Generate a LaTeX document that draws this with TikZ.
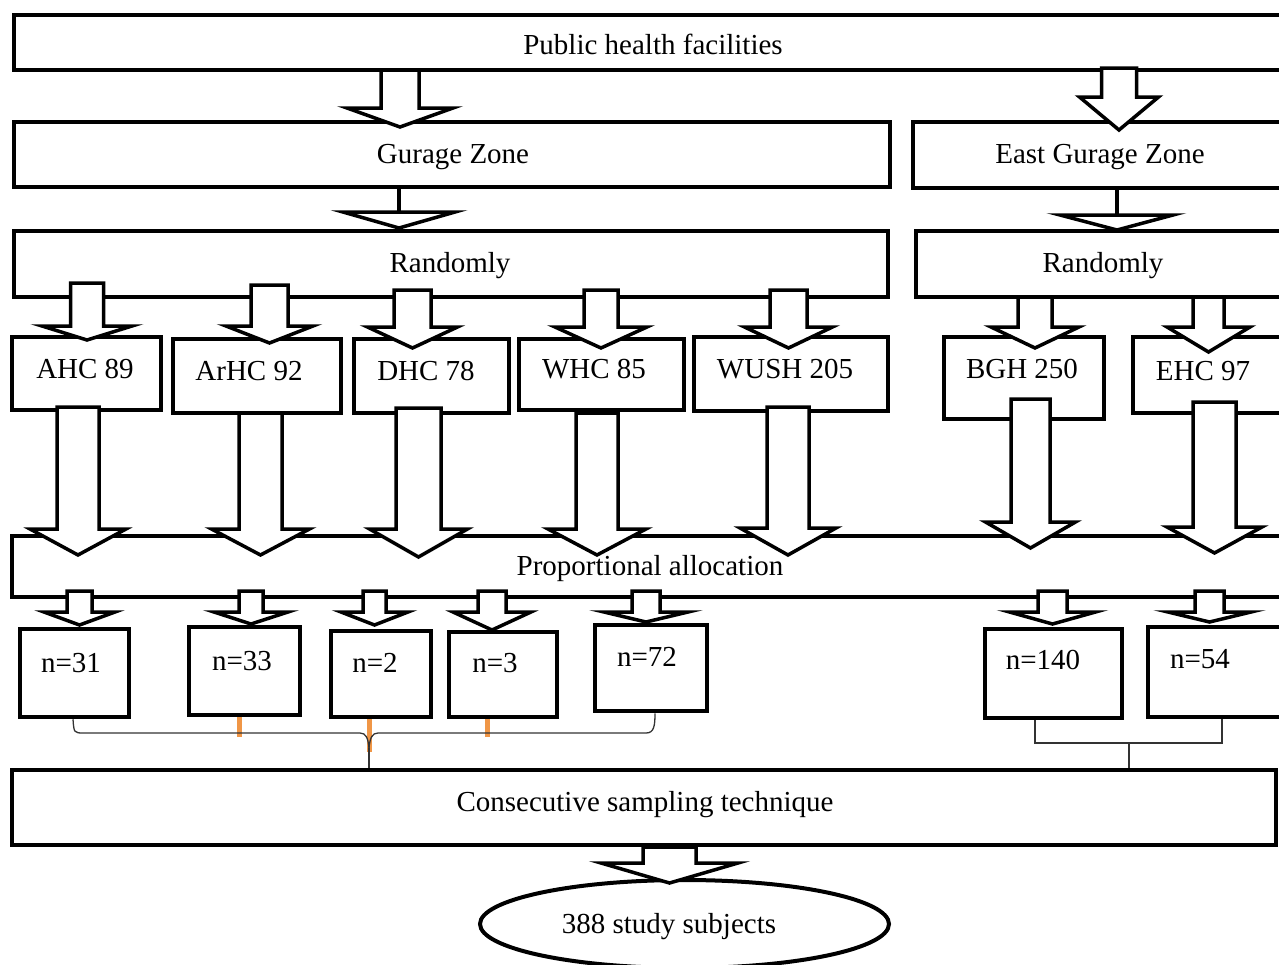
\documentclass[tikz,border=0pt]{standalone}
\usepackage{fontspec}
\setmainfont{Liberation Serif}
\usetikzlibrary{shapes.geometric}
\definecolor{orbar}{RGB}{240,150,70}
\newcommand{\blockarr}[6]{\draw[blockarrow] ({#1-#3},#2) -- ({#1+#3},#2) -- ({#1+#3},#5) -- ({#1+#4},#5) -- (#1,#6) -- ({#1-#4},#5) -- ({#1-#3},#5) -- cycle;}
\begin{document}
\begin{tikzpicture}[x=1pt,y=-1pt,
  box/.style={draw, line width=4pt, fill=white, inner sep=0pt, rectangle},
  nbox/.style={box, line width=4.5pt},
  lbl/.style={anchor=base, inner sep=0pt, font=\fontsize{29}{34}\selectfont},
  blockarrow/.style={draw, fill=white, line width=3.5pt, line join=miter},
  thinline/.style={draw=black!80, line width=1.3pt},
  orange mark/.style={draw=orbar, line width=5pt}]
\useasboundingbox (0,0) rectangle (1279,964);
% ---- boxes ----
\node[box, minimum width=1281pt, minimum height=55pt] (top) at (654.5,42.5) {};
\node[box, minimum width=876pt, minimum height=65pt] (gz) at (452,154.5) {};
\node[box, minimum width=382pt, minimum height=66pt] (egz) at (1104,155) {};
\node[box, minimum width=874pt, minimum height=66pt] (rl) at (451,264) {};
\node[box, minimum width=379pt, minimum height=66pt] (rr) at (1105.5,264) {};
\node[box, minimum width=149pt, minimum height=73pt] (ahc) at (86.5,373.5) {};
\node[box, minimum width=168pt, minimum height=74pt] (arhc) at (257,376) {};
\node[box, minimum width=155pt, minimum height=74pt] (dhc) at (431.5,376) {};
\node[box, minimum width=165pt, minimum height=71pt] (whc) at (601.5,374.5) {};
\node[box, minimum width=194pt, minimum height=74pt] (wush) at (791,374) {};
\node[box, minimum width=160pt, minimum height=82pt] (bgh) at (1024,378) {};
\node[box, minimum width=162pt, minimum height=76pt] (ehc) at (1214,375) {};
\node[box, minimum width=1283pt, minimum height=61pt] (prop) at (653.5,566.5) {};
\node[nbox, minimum width=109pt, minimum height=88pt] (n31) at (74.5,673) {};
\node[nbox, minimum width=111pt, minimum height=88pt] (n33) at (244.5,671) {};
\node[nbox, minimum width=100pt, minimum height=86pt] (n2) at (381,674) {};
\node[nbox, minimum width=108pt, minimum height=85pt] (n3) at (503,674.5) {};
\node[nbox, minimum width=112pt, minimum height=86pt] (n72) at (651,668) {};
\node[nbox, minimum width=137pt, minimum height=89pt] (n140) at (1053.5,673.5) {};
\node[nbox, minimum width=147pt, minimum height=90pt] (n54) at (1221.5,672) {};
\node[box, minimum width=1264pt, minimum height=75pt] (cons) at (644,807.5) {};
\node[draw, ellipse, line width=4pt, inner sep=0pt, minimum width=409pt, minimum height=88pt] (subj) at (684.5,924) {};
% ---- labels ----
\node[lbl] (ttop) at (653,54) {Public health facilities};
\node[lbl] (tgz) at (453,163) {Gurage Zone};
\node[lbl] (tegz) at (1100,163) {East Gurage Zone};
\node[lbl] (trl) at (450,272) {Randomly};
\node[lbl] (trr) at (1103,272) {Randomly};
\node[lbl] (tahc) at (85,378) {AHC 89};
\node[lbl] (tarhc) at (249,380) {ArHC 92};
\node[lbl] (tdhc) at (426,380) {DHC 78};
\node[lbl] (twhc) at (594,378) {WHC 85};
\node[lbl] (twush) at (785,378) {WUSH 205};
\node[lbl] (tbgh) at (1022,378) {BGH 250};
\node[lbl] (tehc) at (1203,380) {EHC 97};
\node[lbl] (tprop) at (650,575) {Proportional allocation};
\node[lbl] (tn31) at (71,672) {n=31};
\node[lbl] (tn33) at (242,670) {n=33};
\node[lbl] (tn2) at (375,672) {n=2};
\node[lbl] (tn3) at (495,672) {n=3};
\node[lbl] (tn72) at (647,666) {n=72};
\node[lbl] (tn140) at (1043,669) {n=140};
\node[lbl] (tn54) at (1200,668) {n=54};
\node[lbl] (tcons) at (645,811) {Consecutive sampling technique};
\node[lbl] (tsubj) at (669,933) {388 study subjects};
% ---- block arrows: top -> zones ----
\blockarr{400}{70}{19}{53}{108}{127}
\blockarr{1119}{68}{17.5}{39.5}{97}{130}
% ---- flat arrows: zones -> Randomly ----
\draw[line width=3.5pt] (399,188) -- (399,212);
\draw[blockarrow] (343,212) -- (455,212) -- (399,228) -- cycle;
\draw[line width=3.5pt] (1117,190) -- (1117,215);
\draw[blockarrow] (1060,215) -- (1173,215) -- (1117,230) -- cycle;
% ---- Randomly -> facilities ----
\blockarr{87}{283}{16.5}{45}{326}{340}
\blockarr{269.5}{285}{18.5}{43.5}{326}{343}
\blockarr{412.5}{290}{18.5}{45}{327}{348}
\blockarr{601}{290}{17}{46}{327}{348}
\blockarr{788.5}{290}{18.5}{44}{327}{348}
\blockarr{1035}{297}{17}{44}{327}{348}
\blockarr{1208.5}{297}{15.5}{41.5}{327}{352}
% ---- facilities -> Proportional allocation ----
\blockarr{78}{407}{21}{48}{529}{555}
\blockarr{260.5}{413}{21.5}{49}{529}{555}
\blockarr{418.5}{408}{22.5}{49}{529}{557}
\blockarr{597}{413}{21}{49}{529}{555}
\blockarr{788}{407}{21}{48}{528}{555}
\blockarr{1030.5}{399}{19.5}{45}{522}{548}
\blockarr{1214.5}{402}{21.5}{47.5}{527}{553}
% ---- Proportional allocation -> n boxes ----
\blockarr{79.5}{591}{12.5}{35.5}{612}{625}
\blockarr{251}{591}{12}{37}{612}{624}
\blockarr{374.5}{591}{11.5}{33.5}{612}{625}
\blockarr{492}{591}{14}{39}{612}{630}
\blockarr{646}{591}{14}{42}{612}{622}
\blockarr{1052.5}{591}{14.5}{43}{612}{624}
\blockarr{1209.5}{591}{14.5}{41.5}{612}{622}
% ---- Consecutive -> subjects ----
\blockarr{669.5}{847}{26.5}{68.5}{863}{883}
% ---- orange marks ----
\draw[orange mark] (n33.south -| 239,0) -- (239,737);
\draw[orange mark] (n2.south -| 369,0) -- (369,752);
\draw[orange mark] (n3.south -| 487,0) -- (487,737);
% ---- brackets ----
\coordinate (lb) at (369,748);
\draw[thinline] (n31.south -| 73,0) .. controls (74,733) and (74,733) .. (84,733) -- (360,733)
   .. controls (366,733) and (368,738) .. (lb);
\draw[thinline] (n72.south -| 655,0) .. controls (655,726) and (654,733) .. (646,733) -- (378,733)
   .. controls (372,733) and (370,738) .. (lb);
\draw[thinline] (lb) -- (cons.north -| lb);
\coordinate (rb) at (1129,743);
\draw[thinline] (n140.south -| 1035,0) -- (1035,743) -- (1222,743) -- (n54.south -| 1222,0);
\draw[thinline] (rb) -- (cons.north -| rb);
\end{tikzpicture}
\end{document}
